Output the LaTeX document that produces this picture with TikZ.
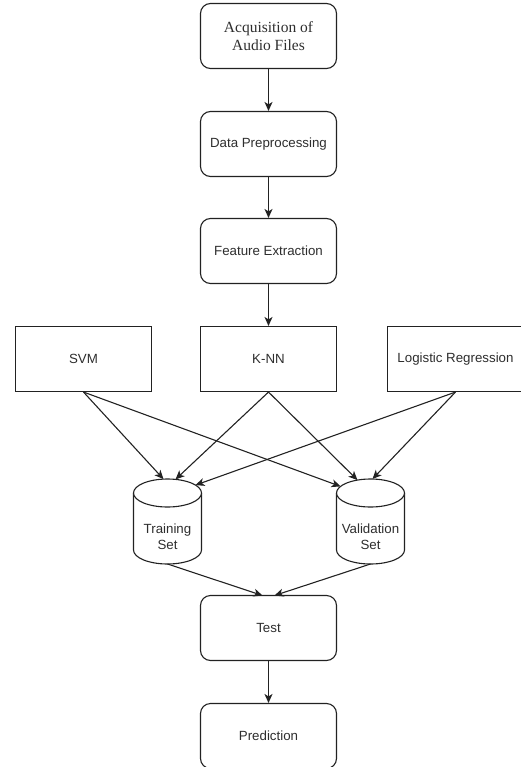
\documentclass[tikz,border=0pt]{standalone}
\usepackage{fontspec}
\setmainfont{Liberation Sans}
\newfontfamily\seriffont{Liberation Serif}
\usetikzlibrary{arrows.meta}
\definecolor{linec}{HTML}{222222}
\definecolor{textc}{HTML}{2E2E2E}
\begin{document}
\begin{tikzpicture}[x=1pt,y=-1pt,
  base/.style={draw=linec, line width=1.1pt, fill=white, text=textc,
    minimum width=136pt, minimum height=65pt, inner sep=0pt, align=center,
    font=\fontsize{13.3}{16}\selectfont},
  roundbox/.style={base, rounded corners=10pt},
  sqbox/.style={base},
  conn/.style={draw=linec, line width=1.1pt, -{Stealth[length=9pt,width=8pt,inset=2.5pt]}},
  cyl/.style={draw=linec, line width=1.1pt, fill=white},
  cyltext/.style={text=textc, align=center, inner sep=0pt, font=\fontsize{13.3}{16}\selectfont}
]
\useasboundingbox (0,0) rectangle (521,767);

\node[roundbox, font=\seriffont\fontsize{15.5}{18}\selectfont] (acq) at (268.5,36) {Acquisition of\\Audio Files};
\node[roundbox] (pre) at (268.5,144) {Data Preprocessing};
\node[roundbox] (feat) at (268.5,251) {Feature Extraction};
\node[sqbox] (svm) at (83.5,359) {SVM};
\node[sqbox] (knn) at (268.5,359) {K-NN};
\node[sqbox] (lr) at (455.5,359) {Logistic Regression};
\node[roundbox] (test) at (268.5,628) {Test};
\node[roundbox] (pred) at (268.5,736) {Prediction};

% cylinders
\draw[cyl] (133.5,493) -- (133.5,550) arc[start angle=180, end angle=360, x radius=34, y radius=-14] -- (201.5,493);
\draw[cyl] (167.5,493) ellipse[x radius=34, y radius=14];
\node[cyltext] (train) at (167.5,537) {Training\\Set};
\draw[cyl] (336.5,493) -- (336.5,550) arc[start angle=180, end angle=360, x radius=34, y radius=-14] -- (404.5,493);
\draw[cyl] (370.5,493) ellipse[x radius=34, y radius=14];
\node[cyltext] (valid) at (370.5,537) {Validation\\Set};

\coordinate (trA) at (163.5,479.1);
\coordinate (trB) at (175.5,479.4);
\coordinate (trC) at (195.5,485.1);
\coordinate (vaA) at (340.5,486.4);
\coordinate (vaB) at (357.5,480.1);
\coordinate (vaC) at (372.5,479);
\coordinate (trBot) at (167.5,564);
\coordinate (vaBot) at (370.5,564);
\coordinate (teL) at (262.5,595.5);
\coordinate (teR) at (274.5,595.5);

\draw[conn] (acq) -- (pre);
\draw[conn] (pre) -- (feat);
\draw[conn] (feat) -- (knn);
\draw[conn] (svm.south) -- (trA);
\draw[conn] (svm.south) -- (vaA);
\draw[conn] (knn.south) -- (trB);
\draw[conn] (knn.south) -- (vaB);
\draw[conn] (lr.south) -- (trC);
\draw[conn] (lr.south) -- (vaC);
\draw[conn] (trBot) -- (teL);
\draw[conn] (vaBot) -- (teR);
\draw[conn] (test) -- (pred);
\end{tikzpicture}
\end{document}
